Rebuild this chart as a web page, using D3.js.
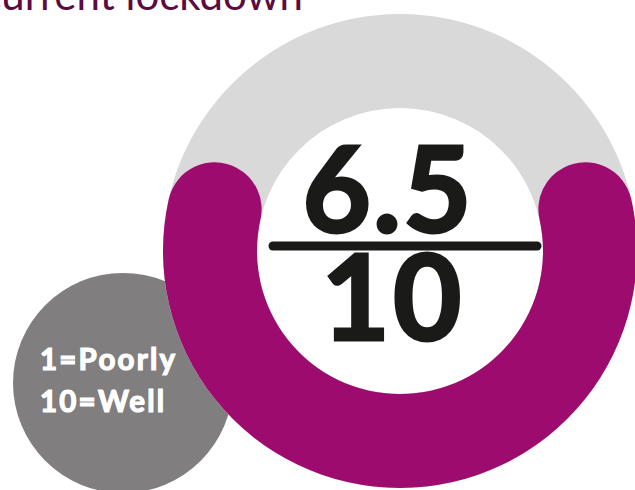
<!DOCTYPE html>
<html>
<head>
<meta charset="utf-8">
<script src="https://cdn.jsdelivr.net/npm/d3@7"></script>
<style>
  html, body { margin: 0; padding: 0; background: #ffffff; }
  svg { display: block; }
</style>
</head>
<body>
<script>
// Rating gauge: average score out of the maximum, shown as a ring
const titleText = ["current lockdown"];
const scoreValue = [6.5];
const scaleMax = [10];
const scaleLabels = ["1=Poorly", "10=Well"];

const W = 635, H = 490;
const cx = 400, cy = 251, outerR = 237, innerR = 143;
const ink = "#1a1a18";

const svg = d3.select("body").append("svg")
  .attr("width", W).attr("height", H);

// Title, running off the top-left edge
svg.append("text")
  .attr("x", 303).attr("y", 10)
  .attr("text-anchor", "end")
  .attr("font-family", "Lato, 'Open Sans', sans-serif")
  .attr("font-size", 42)
  .attr("fill", "#5c0b40")
  .text(titleText[0]);

// Key bubble
svg.append("circle")
  .attr("cx", 123).attr("cy", 383).attr("r", 110)
  .attr("fill", "#807e7f");

svg.append("g")
  .selectAll("text")
  .data(scaleLabels)
  .join("text")
  .attr("x", 40)
  .attr("y", (d, i) => 370 + i * 42)
  .attr("font-family", "Lato, sans-serif")
  .attr("font-weight", 700)
  .attr("font-size", 29.5)
  .attr("letter-spacing", 2.2)
  .attr("fill", "#ffffff")
  .attr("stroke", "#ffffff")
  .attr("stroke-width", 1.2)
  .text(d => d);

const g = svg.append("g").attr("transform", `translate(${cx},${cy})`);

// Background track
const track = d3.arc().innerRadius(innerR).outerRadius(outerR)
  .startAngle(0).endAngle(2 * Math.PI);
g.append("path").attr("d", track()).attr("fill", "#d9d9d9");

// Value arc, centred on the bottom of the ring
const sweep = d3.scaleLinear().domain([0, scaleMax[0]]).range([0, 2 * Math.PI]);
const s = sweep(scoreValue[0]);
const valueArc = d3.arc()
  .innerRadius(innerR).outerRadius(outerR)
  .cornerRadius((outerR - innerR) / 2)
  .startAngle(Math.PI - s / 2)
  .endAngle(Math.PI + s / 2);
g.append("path").attr("d", valueArc()).attr("fill", "#9e0b6f");

// Fraction in the middle
g.append("text")
  .attr("x", -12).attr("y", -19)
  .attr("text-anchor", "middle")
  .attr("font-family", "Lato, sans-serif")
  .attr("font-weight", 700)
  .attr("font-size", 118)
  .attr("letter-spacing", 2)
  .attr("fill", ink)
  .attr("stroke", ink)
  .attr("stroke-width", 3)
  .text(d3.format(".1f")(scoreValue[0]));

g.append("line")
  .attr("x1", -127).attr("x2", 137)
  .attr("y1", -5).attr("y2", -5)
  .attr("stroke", ink)
  .attr("stroke-width", 9)
  .attr("stroke-linecap", "round");

g.append("text")
  .attr("x", -7).attr("y", 89)
  .attr("text-anchor", "middle")
  .attr("font-family", "Lato, sans-serif")
  .attr("font-weight", 700)
  .attr("font-size", 118)
  .attr("letter-spacing", 3)
  .attr("fill", ink)
  .attr("stroke", ink)
  .attr("stroke-width", 3)
  .text(scaleMax[0]);
</script>
</body>
</html>
